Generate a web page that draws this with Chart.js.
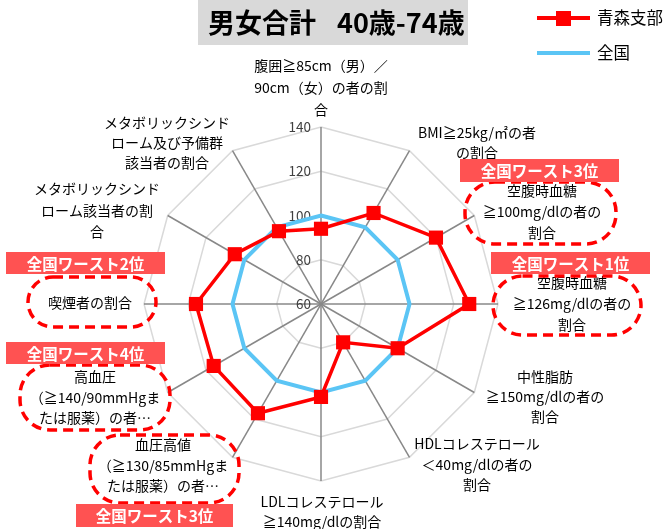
<!DOCTYPE html>
<html>
<head>
<meta charset="utf-8">
<script src="https://cdn.jsdelivr.net/npm/chart.js@4.4.1/dist/chart.umd.min.js"></script>
<style>
  html, body { margin: 0; padding: 0; background: #fff; }
  #wrap { width: 669px; height: 529px; position: relative; }
</style>
</head>
<body>
<div id="wrap"><canvas id="radar" width="669" height="529"></canvas></div>
<script>
(function () {
    'use strict';

    // categories, clockwise from the top
    var categories = [
        ['腹囲≧85cm（男）／', '90cm（女）の者の割', '合'],
        ['BMI≧25kg/㎡の者', 'の割合'],
        ['空腹時血糖', '≧100mg/dlの者の', '割合'],
        ['空腹時血糖', '≧126mg/dlの者の', '割合'],
        ['中性脂肪', '≧150mg/dlの者の', '割合'],
        ['HDLコレステロール', '＜40mg/dlの者の', '割合'],
        ['LDLコレステロール', '≧140mg/dlの割合'],
        ['血圧高値', '（≧130/85mmHgま', 'たは服薬）の者…'],
        ['高血圧', '（≧140/90mmHgま', 'たは服薬）の者…'],
        ['喫煙者の割合'],
        ['メタボリックシンド', 'ローム該当者の割', '合'],
        ['メタボリックシンド', 'ローム及び予備群', '該当者の割合']
    ];
    var aomori = [94, 107.5, 120, 127, 100, 80, 102, 117, 116, 116.5, 105, 98];
    var national = [100, 100, 100, 100, 100, 100, 100, 100, 100, 100, 100, 100];
    var tickValues = [60, 80, 100, 120, 140];
    var seriesNames = ['青森支部', '全国'];
    var titleParts = ['男女合計', '40歳-74歳'];

    // worst-rank notes: category index and text
    var worstIndex = [2, 3, 9, 8, 7];
    var worstText = ['全国ワースト3位', '全国ワースト1位', '全国ワースト2位', '全国ワースト4位', '全国ワースト3位'];

    var RED = '#ff0000';
    var BLUE = '#5bc5f5';
    var BADGE = '#ff5252';
    var JP = '"Noto Sans CJK JP", "Noto Sans", sans-serif';

    // label placement (centre x, first line y, line height)
    var labelPos = [
        [321, 66, 22], [477, 133, 20], [542, 191, 21], [572, 283, 21],
        [545, 377, 20], [477, 444, 20.5], [322, 502, 20], [163, 445, 20.5],
        [95, 377, 20.5], [90, 303, 20], [97, 189, 21.5], [167, 123, 20]
    ];
    // badge rect and dashed outline per note: [bx, by, bw, bh, ox, oy, ow, oh]
    var noteBoxes = [
        [460, 159, 159, 23, 465, 182, 151, 62],
        [491, 252, 159, 22, 493, 276, 148, 59],
        [6, 252, 159, 22, 28, 277, 128, 50],
        [6, 342, 159, 22, 20, 365, 150, 65],
        [76, 504, 157, 23, 90, 435, 149, 68]
    ];

    var decor = {
        id: 'decor',
        beforeDatasetsDraw: function (chart) {
            var ctx = chart.ctx;
            var r = chart.scales.r;
            ctx.save();
            ctx.font = '13.5px ' + JP;
            ctx.fillStyle = '#404040';
            ctx.textAlign = 'right';
            ctx.textBaseline = 'middle';
            tickValues.forEach(function (v) {
                var d = r.getDistanceFromCenterForValue(v);
                ctx.fillText(String(v), r.xCenter - 10, r.yCenter - d);
            });
            ctx.restore();
        },
        afterDraw: function (chart) {
            var ctx = chart.ctx;
            ctx.save();

            // title
            ctx.fillStyle = '#d9d9d9';
            ctx.fillRect(198, 0, 270, 45);
            ctx.fillStyle = '#000';
            ctx.font = 'bold 27px ' + JP;
            ctx.textAlign = 'left';
            ctx.textBaseline = 'middle';
            ctx.fillText(titleParts[0], 208, 23);
            ctx.fillText(titleParts[1], 337, 23);

            // legend
            ctx.lineWidth = 4;
            ctx.strokeStyle = RED;
            ctx.beginPath(); ctx.moveTo(537, 18); ctx.lineTo(590, 18); ctx.stroke();
            ctx.fillStyle = RED;
            ctx.fillRect(556, 11, 15, 15);
            ctx.strokeStyle = BLUE;
            ctx.beginPath(); ctx.moveTo(537, 53); ctx.lineTo(590, 53); ctx.stroke();
            ctx.fillStyle = '#000';
            ctx.font = '16.5px ' + JP;
            ctx.fillText(seriesNames[0], 597, 18);
            ctx.fillText(seriesNames[1], 597, 53);

            // point labels
            ctx.font = '14px ' + JP;
            ctx.textAlign = 'center';
            categories.forEach(function (lines, i) {
                var p = labelPos[i];
                lines.forEach(function (line, k) {
                    ctx.fillText(line, p[0], p[1] + k * p[2]);
                });
            });

            // worst-rank notes
            worstIndex.forEach(function (ci, n) {
                var b = noteBoxes[n];
                ctx.setLineDash([10, 6]);
                ctx.lineWidth = 3.5;
                ctx.strokeStyle = RED;
                ctx.beginPath();
                ctx.roundRect(b[4], b[5], b[6], b[7], Math.min(b[7] / 2, 30));
                ctx.stroke();
                ctx.setLineDash([]);
                ctx.fillStyle = BADGE;
                ctx.fillRect(b[0], b[1], b[2], b[3]);
                ctx.fillStyle = '#fff';
                ctx.font = 'bold 15.5px ' + JP;
                ctx.fillText(worstText[n], b[0] + b[2] / 2, b[1] + b[3] / 2 + 1);
            });
            ctx.restore();
        }
    };

    function init() {
        var el = document.getElementById('radar');
        new Chart(el, {
            type: 'radar',
            data: {
                labels: categories,
                datasets: [
                    {
                        label: seriesNames[0],
                        data: aomori,
                        borderColor: RED,
                        backgroundColor: RED,
                        borderWidth: 3.5,
                        pointStyle: 'rect',
                        pointRadius: 10,
                        pointBackgroundColor: RED,
                        pointBorderWidth: 0,
                        fill: false
                    },
                    {
                        label: seriesNames[1],
                        data: national,
                        borderColor: BLUE,
                        borderWidth: 4,
                        pointRadius: 0,
                        fill: false
                    }
                ]
            },
            options: {
                responsive: false,
                animation: false,
                layout: { padding: { left: 144, right: 171, top: 127, bottom: 48 } },
                plugins: { legend: { display: false }, tooltip: { enabled: false } },
                elements: { line: { tension: 0 } },
                scales: {
                    r: {
                        min: 60,
                        max: 140,
                        ticks: { stepSize: 20, display: false },
                        pointLabels: { display: false },
                        grid: { color: '#d9d9d9', lineWidth: 1.5 },
                        angleLines: { color: '#888888', lineWidth: 1.5 }
                    }
                }
            },
            plugins: [decor]
        });
    }

    if (document.readyState === 'loading') {
        document.addEventListener('DOMContentLoaded', init);
    } else {
        init();
    }
})();
</script>
</body>
</html>
